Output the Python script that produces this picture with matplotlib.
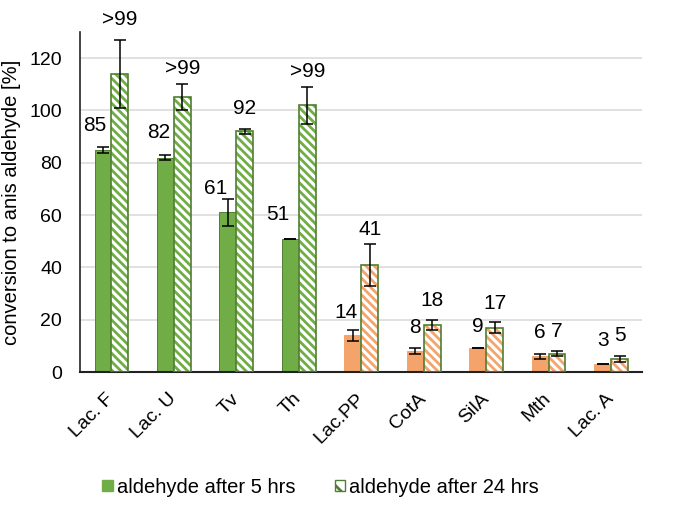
import numpy as np
import matplotlib
matplotlib.use('Agg')
import matplotlib.pyplot as plt
import matplotlib.transforms as mtransforms
from matplotlib.patches import Patch

# Data
enzymes = ['Lac. F', 'Lac. U', 'Tv', 'Th', 'Lac.PP', 'CotA', 'SilA', 'Mth', 'Lac. A']
conv_5h = [85, 82, 61, 51, 14, 8, 9, 6, 3]
err_5h = [1.2, 1, 5, 0, 2, 1, 0, 1, 0]
conv_24h = [114, 105, 92, 102, 41, 18, 17, 7, 5]
err_24h = [13, 5, 1, 7, 8, 2, 2, 1, 1]
labels_5h = ['85', '82', '61', '51', '14', '8', '9', '6', '3']
labels_24h = ['>99', '>99', '92', '>99', '41', '18', '17', '7', '5']
is_plant = [True, True, True, True, False, False, False, False, False]

# label nudges in pixels (dx, height of label centre above error bar)
lab5_dx = [-8, -7, -12, -13, -7, 0, 0, 0, 0]
lab5_dy = [21, 22, 11, 24, 18, 21, 22, 21, 24]
lab24_dy = [20, 16, 20, 15, 14, 19, 19, 20, 21]

GREEN = '#70AD47'
ORANGE = '#F4A46A'
EDGE = '#507E32'

plt.rcParams['font.family'] = ['Liberation Sans', 'DejaVu Sans']
plt.rcParams['hatch.linewidth'] = 2.0

fig = plt.figure(figsize=(6.74, 5.24), dpi=100)
ax = fig.add_axes([0.119, 0.290, 0.834, 0.649])

x = np.arange(len(enzymes))
w = 0.27
fill = [GREEN if p else ORANGE for p in is_plant]

ax.bar(x - w / 2, conv_5h, w, color=fill, edgecolor=[EDGE if p else ORANGE for p in is_plant],
       linewidth=0.7, zorder=2)
# hatched bars: hatch drawn in fill colour, then dark outline on top
ax.bar(x + w / 2, conv_24h, w, color='white', edgecolor=fill, hatch='\\\\\\\\', linewidth=0, zorder=2)
ax.bar(x + w / 2, conv_24h, w, color='none', edgecolor=EDGE, linewidth=1.2, zorder=3)

ax.errorbar(x - w / 2, conv_5h, yerr=err_5h, fmt='none', ecolor='black', elinewidth=1.1,
            capsize=4, capthick=1.1, zorder=4)
ax.errorbar(x + w / 2, conv_24h, yerr=err_24h, fmt='none', ecolor='black', elinewidth=1.1,
            capsize=4, capthick=1.1, zorder=4)

for i in range(len(enzymes)):
    ax.annotate(labels_5h[i], (x[i] - w / 2, conv_5h[i] + err_5h[i]),
                xytext=(lab5_dx[i] * 0.72, lab5_dy[i] * 0.72), textcoords='offset points',
                ha='center', va='center', fontsize=15)
    ax.annotate(labels_24h[i], (x[i] + w / 2, conv_24h[i] + err_24h[i]),
                xytext=(0, lab24_dy[i] * 0.72), textcoords='offset points',
                ha='center', va='center', fontsize=15)

ax.set_xlim(-0.5, len(enzymes) - 0.5)
ax.set_ylim(0, 130)
ax.set_yticks(range(0, 121, 20))
ax.tick_params(axis='y', length=0, labelsize=14, pad=13)
ax.tick_params(axis='x', length=0, labelsize=14, pad=13)
ax.set_xticks(x)
ax.set_xticklabels(enzymes, rotation=45, ha='right', rotation_mode='anchor')
shift = mtransforms.ScaledTranslation(-6 / 100, 0, fig.dpi_scale_trans)
for lab in ax.get_xticklabels():
    lab.set_transform(lab.get_transform() + shift)
ax.set_ylabel('conversion to anis aldehyde [%]', fontsize=14.5, labelpad=6)

ax.grid(axis='y', color='#D9D9D9', linewidth=1.1, zorder=0)
ax.set_axisbelow(True)
for s in ['top', 'right']:
    ax.spines[s].set_visible(False)
ax.spines['left'].set_color('#222222')
ax.spines['bottom'].set_color('#222222')
ax.spines['left'].set_linewidth(1.2)
ax.spines['bottom'].set_linewidth(1.5)

handles = [Patch(facecolor=GREEN, edgecolor=GREEN, label='aldehyde after 5 hrs'),
           Patch(facecolor='white', edgecolor=EDGE, hatch='\\\\', label='aldehyde after 24 hrs')]
fig.legend(handles=handles, loc='center', bbox_to_anchor=(0.476, 0.07), ncol=2, frameon=False,
           fontsize=14.5, handlelength=0.5, handleheight=0.5, handletextpad=0.2, columnspacing=2.0)

fig.savefig('out.png', dpi=100)
